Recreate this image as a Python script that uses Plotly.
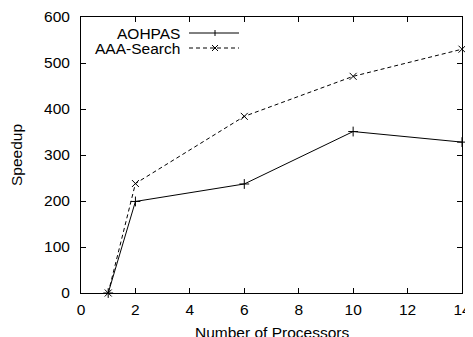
import plotly.graph_objects as go

processors = [1, 2, 6, 10, 14]
aohpas = [0, 199, 237, 351, 328]
aaa_search = [0, 238, 384, 471, 530]
series_names = ["AOHPAS", "AAA-Search"]
x_ticks = [0, 2, 4, 6, 8, 10, 12, 14]
y_ticks = [0, 100, 200, 300, 400, 500, 600]
x_title = "Number of Processors"
y_title = "Speedup"

FONT = "Liberation Sans, Arial, Helvetica, sans-serif"
FS = 15.5

# the page body has an 8px default margin, so the figure is drawn 8px in from
# the window's top-left corner; size the figure to fill the rest of the window
OFF = 8
WIN_W, WIN_H = 473, 337
W, H = WIN_W - OFF, WIN_H - OFF
# plot-area edges in window pixels (from the reference)
PL, PR, PT, PB = 81, 462, 17, 293
L, R, T, B = PL - OFF, WIN_W - PR, PT - OFF, WIN_H - PB
pw, ph = PR - PL, PB - PT
def px(x): return (x - PL) / pw          # window px -> paper x
def py(y): return 1 - (y - PT) / ph      # window px -> paper y

fig = go.Figure()
fig.add_trace(go.Scatter(
    x=processors, y=aohpas, mode="lines+markers", name=series_names[0],
    line=dict(color="black", width=1),
    marker=dict(symbol="cross-thin", size=7, line=dict(color="black", width=1)),
    cliponaxis=False, showlegend=False))
fig.add_trace(go.Scatter(
    x=processors, y=aaa_search, mode="lines+markers", name=series_names[1],
    line=dict(color="black", width=1, dash="4px,3px"),
    marker=dict(symbol="x-thin", size=7, line=dict(color="black", width=1)),
    cliponaxis=False, showlegend=False))

# custom legend (text right-aligned, sample on the right like gnuplot)
shapes = []
annotations = []
rows = [(33, "solid", "plus"), (48, "dash", "x")]
for (yc, dash, mk), name in zip(rows, series_names):
    annotations.append(dict(x=px(182), y=py(yc), xref="paper", yref="paper",
                            text=name, showarrow=False, xanchor="right", yanchor="middle",
                            font=dict(family=FONT, size=FS, color="black")))
    shapes.append(dict(type="line", xref="paper", yref="paper",
                       x0=px(189), x1=px(239), y0=py(yc), y1=py(yc),
                       line=dict(color="black", width=1, dash="solid" if dash == "solid" else "4px,3px")))
    mx = 215
    if mk == "plus":
        shapes.append(dict(type="line", xref="paper", yref="paper",
                           x0=px(mx), x1=px(mx), y0=py(yc - 3), y1=py(yc + 3),
                           line=dict(color="black", width=1)))
    else:
        shapes.append(dict(type="line", xref="paper", yref="paper",
                           x0=px(mx - 3), x1=px(mx + 3), y0=py(yc - 3), y1=py(yc + 3),
                           line=dict(color="black", width=1)))
        shapes.append(dict(type="line", xref="paper", yref="paper",
                           x0=px(mx - 3), x1=px(mx + 3), y0=py(yc + 3), y1=py(yc - 3),
                           line=dict(color="black", width=1)))

# axis titles as annotations (precise placement, no automargin)
annotations.append(dict(x=0.5, y=py(332), xref="paper", yref="paper", text=x_title,
                        showarrow=False, xanchor="center", yanchor="middle",
                        font=dict(family=FONT, size=FS, color="black")))
annotations.append(dict(x=px(16), y=py(155), xref="paper", yref="paper", text=y_title,
                        showarrow=False, xanchor="center", yanchor="middle", textangle=-90,
                        font=dict(family=FONT, size=FS, color="black")))

axis_common = dict(showgrid=False, zeroline=False, showline=True, linecolor="black",
                   linewidth=1, mirror="ticks", ticks="inside", ticklen=5,
                   tickcolor="black", tickwidth=1, automargin=False,
                   tickfont=dict(family=FONT, size=FS, color="black"))

fig.update_layout(
    width=W, height=H,
    margin=dict(l=L, r=R, t=T, b=B, autoexpand=False),
    paper_bgcolor="white", plot_bgcolor="white",
    font=dict(family=FONT, size=FS, color="black"),
    xaxis=dict(range=[0, 14], tickvals=x_ticks, ticklabelstandoff=2, **axis_common),
    yaxis=dict(range=[0, 600], tickvals=y_ticks, ticklabelstandoff=7, **axis_common),
    shapes=shapes, annotations=annotations,
    showlegend=False,
)

fig.write_html("out.html")
